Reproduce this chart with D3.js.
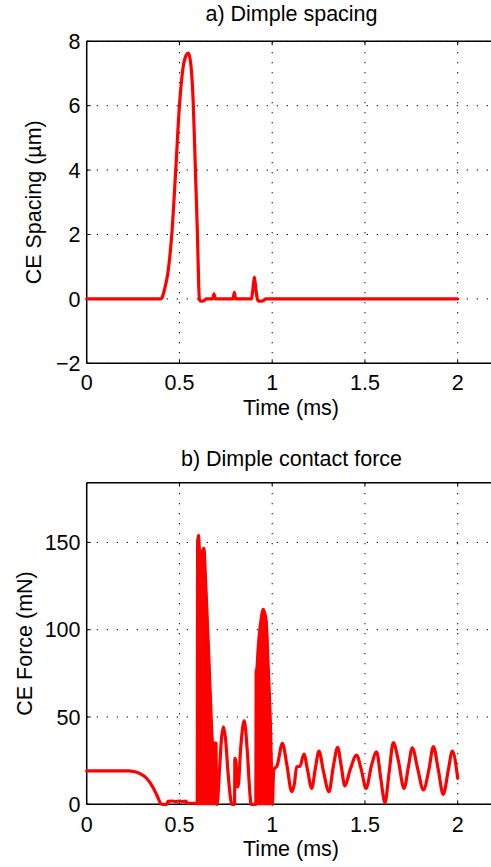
<!DOCTYPE html>
<html><head><meta charset="utf-8">
<script src="https://cdn.jsdelivr.net/npm/d3@7"></script>
<style>
body{margin:0;background:#fff}
text{font-family:"Liberation Sans",Arial,Helvetica,sans-serif;font-size:21.5px;fill:#000}
</style>
</head><body>
<svg id="c" width="491" height="867"></svg>
<script>
// ---------- data ----------
const xTicks = [0, 0.5, 1, 1.5, 2];
const xTickLabels = ["0", "0.5", "1", "1.5", "2"];
const spacingTicks = [-2, 0, 2, 4, 6, 8];
const spacingTickLabels = ["\u22122", "0", "2", "4", "6", "8"];
const forceTicks = [0, 50, 100, 150];
const forceTickLabels = ["0", "50", "100", "150"];

// a) Dimple spacing (µm) vs time (ms)
const spacingTime  = [0, 0.40, 0.42, 0.44, 0.46, 0.48, 0.50, 0.52, 0.535, 0.548, 0.56, 0.575, 0.586, 0.597, 0.604, 0.608,
                      0.615, 0.63, 0.645, 0.679, 0.686, 0.693, 0.789, 0.796, 0.803, 0.888, 0.896, 0.904, 0.912, 0.92,
                      0.928, 0.95, 0.965, 2.0];
const spacingValue = [0, 0, 0.3, 0.9, 2.1, 4.0, 6.0, 7.2, 7.55, 7.63, 7.35, 6.0, 4.0, 2.0, 0.4, -0.03,
                      -0.07, -0.06, 0, 0, 0.16, 0, 0, 0.2, 0, 0, 0.3, 0.68, 0.3, 0,
                      -0.07, -0.06, 0, 0];

// b) Dimple contact force (mN) vs time (ms)
const forceTime  = [0, 0.225, 0.25, 0.288, 0.323, 0.36, 0.386, 0.40, 0.41, 0.433, 0.438, 0.46, 0.48, 0.50, 0.52, 0.536, 0.54,
                    0.596, 0.598, 0.603, 0.61, 0.616, 0.624, 0.632, 0.638, 0.647, 0.661, 0.670, 0.675, 0.678, 0.697, 0.700,
                    0.703, 0.715, 0.727, 0.737, 0.748, 0.762, 0.776, 0.782, 0.797, 0.799, 0.805, 0.811, 0.816, 0.83, 0.849,
                    0.866, 0.88, 0.886, 0.912, 0.9135, 0.918, 0.925, 0.94, 0.952, 0.958, 0.967, 0.979, 0.992, 0.998, 1.001,
                    1.008, 1.027, 1.055, 1.08, 1.105, 1.12, 1.132, 1.15, 1.171, 1.19, 1.213, 1.232, 1.252, 1.276, 1.306,
                    1.33, 1.353, 1.372, 1.392, 1.42, 1.455, 1.48, 1.506, 1.536, 1.563, 1.585, 1.608, 1.63, 1.653, 1.68,
                    1.711, 1.735, 1.755, 1.785, 1.815, 1.845, 1.869, 1.895, 1.922, 1.95, 1.971, 2.0];
const forceValue = [19.1, 19.1, 18.9, 17.6, 14.9, 9.2, 3.4, 0.3, 0, 0, 1.7, 1.9, 1.6, 1.9, 1.6, 1.8, 0.6,
                    0.6, 150, 154, 140, 139, 145, 146.6, 135, 113, 77, 52, 40, 35, 35, 0.5,
                    0, 18, 38, 44.4, 38, 18, 3, 0, 0, 26.3, 24, 10, 10, 32, 48,
                    30, 6, 0, 0, 76, 78, 90, 105.6, 111.7, 110, 105.6, 77, 38.7, 10, 0,
                    19.6, 22.3, 34.9, 22, 7.2, 12, 21.5, 21.8, 28.8, 20, 9.1, 20, 30.5, 19.1, 7.2,
                    22, 32.6, 22, 10.5, 19.7, 28.2, 20, 9.1, 22.5, 30.1, 15, 0.9, 18, 35.3, 25,
                    9.1, 22, 32.4, 20, 8.2, 20, 33, 20, 5.7, 20, 30.5, 14.9];
// time windows of dense oscillation bursts (drawn filled)
const burstWindows = [[0.596, 0.700], [0.912, 1.001]];

// ---------- drawing ----------
const svg = d3.select("#c");
const x = d3.scaleLinear().domain([0, 2.2]).range([86.7, 494.8]);
const red = "#ff0000";

function panel(o) {
  const y = d3.scaleLinear().domain(o.yDomain).range([o.bottom, o.top]);
  const g = svg.append("g");
  // grid
  g.selectAll(".vg").data(xTicks.filter(d => d > 0)).enter().append("line")
    .attr("x1", d => x(d)).attr("x2", d => x(d)).attr("y1", o.bottom).attr("y2", o.top)
    .attr("stroke", "#000").attr("stroke-width", 1).attr("stroke-dasharray", "1.3,8.7");
  g.selectAll(".hg").data(o.ticks).enter().append("line")
    .attr("x1", x(0)).attr("x2", 491).attr("y1", d => y(d)).attr("y2", d => y(d))
    .attr("stroke", "#000").attr("stroke-width", 1).attr("stroke-dasharray", "1.3,8.7");
  // axes box
  g.append("line").attr("x1", x(0)).attr("x2", 495).attr("y1", o.top).attr("y2", o.top).attr("stroke", "#000").attr("stroke-width", 1.5);
  g.append("line").attr("x1", x(0)).attr("x2", 495).attr("y1", o.bottom).attr("y2", o.bottom).attr("stroke", "#000").attr("stroke-width", 1.5);
  g.append("line").attr("x1", x(0)).attr("x2", x(0)).attr("y1", o.top).attr("y2", o.bottom).attr("stroke", "#000").attr("stroke-width", 1.5);
  // ticks (inward)
  xTicks.forEach(t => {
    g.append("line").attr("x1", x(t)).attr("x2", x(t)).attr("y1", o.bottom).attr("y2", o.bottom - 4).attr("stroke", "#000").attr("stroke-width", 1);
    g.append("line").attr("x1", x(t)).attr("x2", x(t)).attr("y1", o.top).attr("y2", o.top + 4).attr("stroke", "#000").attr("stroke-width", 1);
  });
  o.ticks.forEach(t => {
    g.append("line").attr("x1", x(0)).attr("x2", x(0) + 4).attr("y1", y(t)).attr("y2", y(t)).attr("stroke", "#000").attr("stroke-width", 1);
  });
  // tick labels
  g.selectAll(".xl").data(xTicks).enter().append("text")
    .attr("x", d => x(d)).attr("y", o.xTickBase).attr("text-anchor", "middle")
    .text((d, i) => xTickLabels[i]);
  g.selectAll(".yl").data(o.ticks).enter().append("text")
    .attr("x", 80.5).attr("y", d => y(d) + 7.7).attr("text-anchor", "end")
    .text((d, i) => o.tickLabels[i]);
  // titles and labels
  g.append("text").attr("x", 291.5).attr("y", o.titleBase).attr("text-anchor", "middle").text(o.title);
  g.append("text").attr("x", 291).attr("y", o.xLabelBase).attr("text-anchor", "middle").text("Time (ms)");
  g.append("text").attr("transform", `translate(${o.yLabelX},${(o.top + o.bottom) / 2}) rotate(-90)`)
    .attr("text-anchor", "middle").text(o.yLabel);
  // data
  const pts = o.t.map((t, i) => [t, o.v[i]]);
  const curve = d3.curveMonotoneX;
  (o.bursts || []).forEach(w => {
    const sub = pts.filter(p => p[0] >= w[0] - 1e-9 && p[0] <= w[1] + 1e-9);
    g.append("path").datum(sub)
      .attr("d", d3.area().x(p => x(p[0])).y0(y(0)).y1(p => y(p[1])).curve(curve))
      .attr("fill", red).attr("stroke", red).attr("stroke-width", 2);
  });
  g.append("path").datum(pts)
    .attr("d", d3.line().x(p => x(p[0])).y(p => y(p[1])).curve(curve))
    .attr("fill", "none").attr("stroke", red).attr("stroke-width", 3.2)
    .attr("stroke-linejoin", "round").attr("stroke-linecap", "round");
}

panel({
  top: 41.3, bottom: 363.3, yDomain: [-2, 8], ticks: spacingTicks, tickLabels: spacingTickLabels,
  title: "a) Dimple spacing", titleBase: 20.5, xTickBase: 389.5, xLabelBase: 414.5,
  yLabel: "CE Spacing (\u00b5m)", yLabelX: 40.5, t: spacingTime, v: spacingValue
});
panel({
  top: 482.7, bottom: 804.3, yDomain: [0, 184.2], ticks: forceTicks, tickLabels: forceTickLabels,
  title: "b) Dimple contact force", titleBase: 466, xTickBase: 832, xLabelBase: 855.5,
  yLabel: "CE Force (mN)", yLabelX: 31.5, t: forceTime, v: forceValue, bursts: burstWindows
});
</script>
</body></html>
